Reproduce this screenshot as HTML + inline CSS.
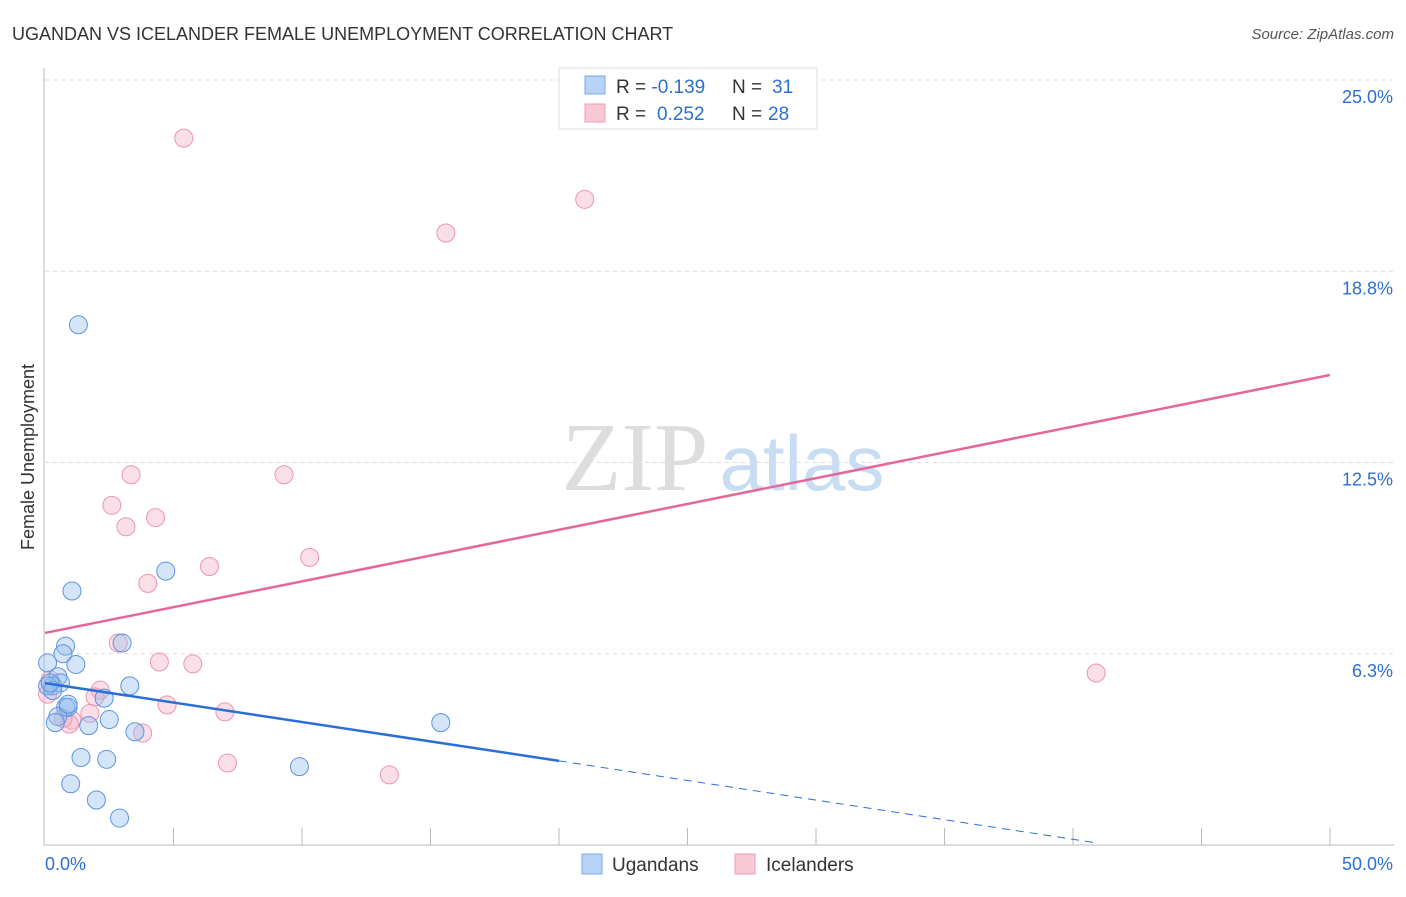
<!DOCTYPE html>
<html><head><meta charset="utf-8"><style>
body{margin:0;background:#fff;font-family:"Liberation Sans",sans-serif;}
</style></head><body>
<svg id="chart" width="1406" height="892" xmlns="http://www.w3.org/2000/svg">
<text x="12" y="40" font-size="18" fill="#333">UGANDAN VS ICELANDER FEMALE UNEMPLOYMENT CORRELATION CHART</text>
<text x="1394" y="39" font-size="15" fill="#555" font-style="italic" text-anchor="end">Source: ZipAtlas.com</text>
<text x="34" y="457" font-size="18" fill="#333" text-anchor="middle" transform="rotate(-90 34 457)">Female Unemployment</text>
<g><text x="635" y="490" font-size="98" fill="#ddd" font-family="Liberation Serif" text-anchor="middle">ZIP</text><text x="802" y="490" font-size="78" fill="#c8dcf2" text-anchor="middle">atlas</text></g>
<g id="grid"></g><g id="axes"></g><g id="pts"></g><g id="lines"></g>
<g>
<rect x="559" y="68" width="258" height="61" fill="#fff" stroke="#ddd"/>
<rect x="585" y="76" width="20" height="18" fill="#b7d3f5" stroke="#7aa8e6"/>
<rect x="585" y="104" width="20" height="18" fill="#f9c8d6" stroke="#ee9cb4"/>
<text x="616" y="93" font-size="19" fill="#333">R = <tspan fill="#2d6fd0">-0.139</tspan><tspan x="732">N = </tspan><tspan fill="#2d6fd0" x="772">31</tspan></text>
<text x="616" y="120" font-size="19" fill="#333">R = <tspan fill="#2d6fd0" x="657">0.252</tspan><tspan x="732">N = </tspan><tspan fill="#2d6fd0" x="768">28</tspan></text>
</g>
<g>
<rect x="582" y="854" width="20" height="20" fill="#b7d3f5" stroke="#7aa8e6"/>
<text x="612" y="871" font-size="19" fill="#333">Ugandans</text>
<rect x="735" y="854" width="20" height="20" fill="#f9c8d6" stroke="#ee9cb4"/>
<text x="766" y="871" font-size="19" fill="#333">Icelanders</text>
</g>
</svg>
<script>
const yTicks=[25.0,18.8,12.5,6.3];
const yTickVals=[25,18.75,12.5,6.25];
const xTickLabels=["0.0%","50.0%"];
const blueX=[1.3,1.05,4.7,3.0,0.8,0.7,1.2,0.1,0.5,0.3,0.6,0.1,3.3,2.3,0.8,0.9,0.5,0.4,1.7,2.5,3.5,15.4,1.4,2.4,9.9,1.0,2.0,2.9,0.3,0.2,0.9];
const blueY=[17.0,8.3,8.95,6.6,6.5,6.25,5.9,5.95,5.5,5.2,5.3,5.2,5.2,4.8,4.5,4.5,4.2,4.0,3.9,4.1,3.7,4.0,2.86,2.8,2.56,2.0,1.47,0.88,5.05,5.3,4.6];
const pinkX=[5.4,21.0,15.6,3.35,9.3,2.6,4.3,3.15,10.3,6.4,4.0,2.85,4.45,5.75,40.9,0.2,2.15,1.95,0.1,4.75,7.0,1.75,1.05,0.95,3.8,7.1,13.4,0.7];
const pinkY=[23.1,21.1,20.0,12.1,12.1,11.1,10.7,10.4,9.4,9.1,8.55,6.6,5.98,5.92,5.62,5.4,5.06,4.84,4.93,4.58,4.35,4.3,4.08,3.95,3.66,2.68,2.29,4.14];
const pinkLine=[[0,6.93],[50,15.36]];
const blueSolid=[[0,5.29],[20,2.75]];
const blueDash=[[20,2.75],[40.9,0.07]];
const X=v=>45+v*25.7, Y=v=>845-v*30.6;
const NS="http://www.w3.org/2000/svg";
function mk(p,t,a){const e=document.createElementNS(NS,t);for(const k in a)e.setAttribute(k,a[k]);p.appendChild(e);return e;}
const grid=document.getElementById('grid'),axes=document.getElementById('axes'),pts=document.getElementById('pts'),lines=document.getElementById('lines');
yTickVals.forEach((v,i)=>{
 const l=mk(grid,'line',{x1:45,x2:1394,y1:Y(v),y2:Y(v),stroke:'#ddd','stroke-dasharray':'4,4'});
 
 
 const t=mk(grid,'text',{x:1393,y:Y(v)+23,'font-size':18,fill:'#2d6fd0','text-anchor':'end'});
 t.textContent=yTicks[i].toFixed(1)+'%';
 
 
});
const ax=mk(axes,'path',{d:'M44 68V845H1394',stroke:'#bbb',fill:'none'});


for(let i=1;i<=10;i++){const t=mk(axes,'line',{x1:X(i*5),x2:X(i*5),y1:828,y2:845,stroke:'#bbb'});
 
 }
[[0,'start',45],[50,'end',1393]].forEach((d,i)=>{const t=mk(axes,'text',{x:d[2],y:870,'font-size':18,fill:'#2d6fd0','text-anchor':d[1]});t.textContent=xTickLabels[i];
 
 });
pinkX.forEach((x,i)=>{const c=mk(pts,'circle',{cx:X(x),cy:Y(pinkY[i]),r:9,fill:'rgba(246,176,198,0.4)',stroke:'#eb95b0','stroke-width':1});
 
 });
blueX.forEach((x,i)=>{const c=mk(pts,'circle',{cx:X(x),cy:Y(blueY[i]),r:9,fill:'rgba(150,190,240,0.4)',stroke:'#5b93dd','stroke-width':1});
 
 });
function ln(p,st,name,dash,w){const l=mk(lines,'line',{x1:X(p[0][0]),y1:Y(p[0][1]),x2:X(p[1][0]),y2:Y(p[1][1]),stroke:st,'stroke-width':w});if(dash)l.setAttribute('stroke-dasharray',dash);
 
 }
ln(pinkLine,'#e5669a','icelander-trendline',null,2.5);
ln(blueSolid,'#2a6fd6','ugandan-trendline',null,2.5);
ln(blueDash,'#2a6fd6','ugandan-trendline-extension','8,6',1);
</script>
</body></html>
